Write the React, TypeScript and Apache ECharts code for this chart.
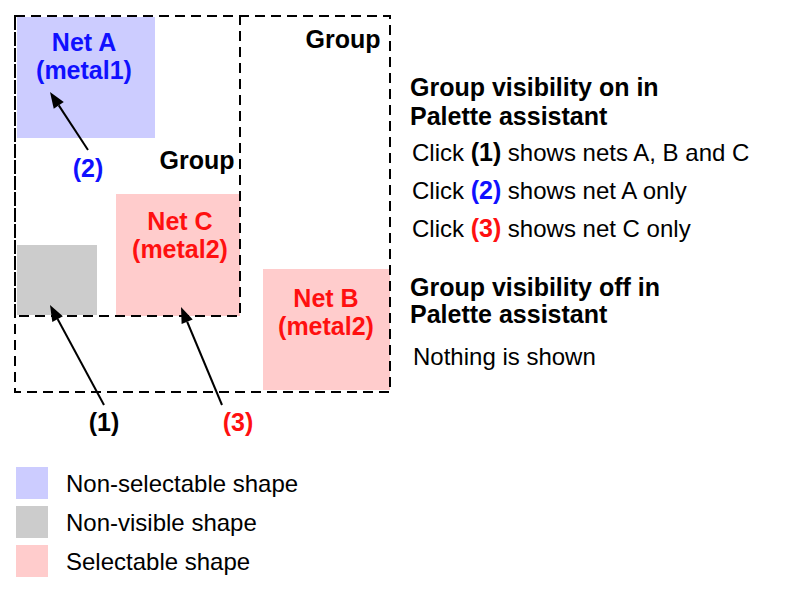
import React, { useEffect, useRef } from "react";
import * as echarts from "echarts";

// shapes: [x1, y1, x2, y2, fill]
const shapes: [number, number, number, number, string][] = [
  [17, 17, 155, 138, "#ccccff"],
  [17, 245, 97, 315, "#cccccc"],
  [116, 194, 240, 316, "#ffcccc"],
  [263, 269, 390, 390, "#ffcccc"],
];
// dashed group outlines
const groups: [number, number, number, number][] = [
  [15, 16, 390, 392],
  [15, 16, 240, 316],
];
// arrows: from -> to
const arrows: [number, number, number, number][] = [
  [88, 150, 50, 92],
  [104, 405, 50, 305],
  [222, 405, 181, 307],
];
// labels: x, y, text, color, bold, align
const labels: [number, number, string, string, boolean, string][] = [
  [84, 42, "Net A", "#1010ff", true, "center"],
  [84, 70, "(metal1)", "#1010ff", true, "center"],
  [343, 39, "Group", "#000", true, "center"],
  [197, 160, "Group", "#000", true, "center"],
  [180, 221, "Net C", "#ff1010", true, "center"],
  [180, 249, "(metal2)", "#ff1010", true, "center"],
  [326, 298, "Net B", "#ff1010", true, "center"],
  [326, 326, "(metal2)", "#ff1010", true, "center"],
  [88, 168, "(2)", "#1010ff", true, "center"],
  [104, 422, "(1)", "#000", true, "center"],
  [238, 422, "(3)", "#ff1010", true, "center"],
  [410, 87, "Group visibility on in", "#000", true, "left"],
  [410, 116, "Palette assistant", "#000", true, "left"],
  [410, 287, "Group visibility off in", "#000", true, "left"],
  [410, 314, "Palette assistant", "#000", true, "left"],
  [413, 356, "Nothing is shown", "#000", false, "left"],
];
// click lines: y, marker, color, rest
const clicks: [number, string, string, string][] = [
  [152, "(1)", "#000", " shows nets A, B and C"],
  [190, "(2)", "#1010ff", " shows net A only"],
  [228, "(3)", "#ff1010", " shows net C only"],
];
const legendItems: [number, string, string][] = [
  [483, "#ccccff", "Non-selectable shape"],
  [522, "#cccccc", "Non-visible shape"],
  [561, "#ffcccc", "Selectable shape"],
];

const FONT = "'Liberation Sans', Arial, sans-serif";
const NORMAL = `24px ${FONT}`;
const BOLD = `bold 25px ${FONT}`;

export default function App() {
  const ref = useRef<HTMLDivElement>(null);
  useEffect(() => {
    document.body.style.margin = "0";
    const chart = echarts.init(ref.current!, null, { renderer: "svg" });
    type El = { kind: string; v: any };
    const els: El[] = [];
    shapes.forEach((s) => els.push({ kind: "shape", v: s }));
    groups.forEach((g) => els.push({ kind: "group", v: g }));
    arrows.forEach((a) => els.push({ kind: "arrow", v: a }));
    labels.forEach((l) => els.push({ kind: "label", v: l }));
    clicks.forEach((c) => els.push({ kind: "click", v: c }));
    legendItems.forEach((c) => els.push({ kind: "legend", v: c }));

    const renderItem = (params: any, api: any) => {
      const e = els[params.dataIndex];
      const v = e.v;
      if (e.kind === "shape" || e.kind === "group") {
        const p1 = api.coord([v[0], v[1]]);
        const p2 = api.coord([v[2], v[3]]);
        return {
          type: "rect",
          shape: { x: p1[0], y: p1[1], width: p2[0] - p1[0], height: p2[1] - p1[1] },
          style:
            e.kind === "shape"
              ? { fill: v[4] }
              : { fill: "none", stroke: "#000", lineWidth: 2, lineDash: [10, 6] },
        };
      }
      if (e.kind === "arrow") {
        const a = api.coord([v[0], v[1]]);
        const b = api.coord([v[2], v[3]]);
        const dx = b[0] - a[0], dy = b[1] - a[1];
        const len = Math.hypot(dx, dy);
        const ux = dx / len, uy = dy / len;
        const hl = 16, hw = 6;
        const bx = b[0] - ux * hl, by = b[1] - uy * hl;
        return {
          type: "group",
          children: [
            { type: "line", shape: { x1: a[0], y1: a[1], x2: bx, y2: by }, style: { stroke: "#000", lineWidth: 2 } },
            {
              type: "polygon",
              shape: { points: [[b[0], b[1]], [bx - uy * hw, by + ux * hw], [bx + uy * hw, by - ux * hw]] },
              style: { fill: "#000" },
            },
          ],
        };
      }
      if (e.kind === "label") {
        const p = api.coord([v[0], v[1]]);
        return {
          type: "text",
          x: p[0], y: p[1],
          style: {
            text: v[2], fill: v[3], font: v[4] ? BOLD : NORMAL,
            align: v[5], verticalAlign: "middle",
          },
        };
      }
      if (e.kind === "click") {
        const p = api.coord([412, v[0]]);
        return {
          type: "text",
          x: p[0], y: p[1],
          style: {
            text: `{n|Click }{m|${v[1]}}{n|${v[3]}}`,
            verticalAlign: "middle",
            rich: {
              n: { fill: "#000", font: NORMAL },
              m: { fill: v[2], font: BOLD },
            },
          },
        };
      }
      // legend
      const s1 = api.coord([16, v[0] - 16]);
      const s2 = api.coord([48, v[0] + 16]);
      const t = api.coord([66, v[0]]);
      return {
        type: "group",
        children: [
          { type: "rect", shape: { x: s1[0], y: s1[1], width: s2[0] - s1[0], height: s2[1] - s1[1] }, style: { fill: v[1] } },
          { type: "text", x: t[0], y: t[1], style: { text: v[2], fill: "#000", font: NORMAL, verticalAlign: "middle" } },
        ],
      };
    };

    chart.setOption({
      animation: false,
      backgroundColor: "#fff",
      grid: { left: 0, right: 0, top: 0, bottom: 0 },
      xAxis: { type: "value", min: 0, max: 808, show: false },
      yAxis: { type: "value", min: 0, max: 597, inverse: true, show: false },
      series: [
        {
          type: "custom",
          renderItem,
          data: els.map((_, i) => [i]),
          silent: true,
        },
      ],
    });
    return () => chart.dispose();
  }, []);
  return <div ref={ref} style={{ position: "absolute", left: 0, top: 0, width: 808, height: 597 }} />;
}
